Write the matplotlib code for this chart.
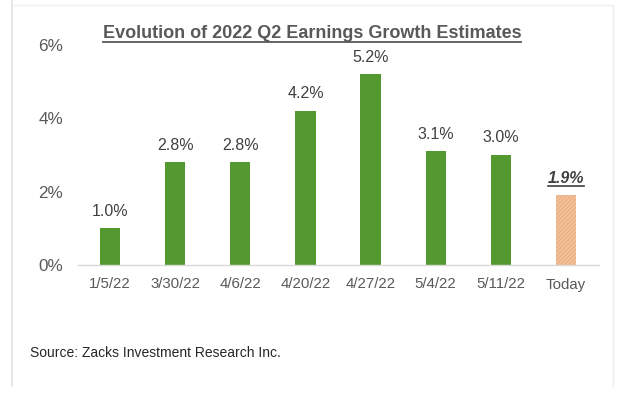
import matplotlib
matplotlib.use("Agg")
import matplotlib.pyplot as plt
from matplotlib.lines import Line2D

plt.rcParams['font.family'] = ['Liberation Sans', 'DejaVu Sans']
plt.rcParams['hatch.linewidth'] = 0.4

categories = ["1/5/22", "3/30/22", "4/6/22", "4/20/22", "4/27/22", "5/4/22", "5/11/22", "Today"]
values = [1.0, 2.8, 2.8, 4.2, 5.2, 3.1, 3.0, 1.9]
yticks = [0, 2, 4, 6]
title = "Evolution of 2022 Q2 Earnings Growth Estimates"
source = "Source: Zacks Investment Research Inc."

W, H = 620, 396
fig = plt.figure(figsize=(W / 100, H / 100), dpi=100)
fig.patch.set_facecolor('white')

def fx(px):
    return px / W

def fy(py):
    return 1 - py / H

ax = fig.add_axes([fx(77.5), fy(265), fx(598.5) - fx(77.5), fy(45) - fy(265)])
x = list(range(len(categories)))
green = '#53992f'
ax.bar(x[:-1], values[:-1], width=0.31, color=green, zorder=2)
ax.bar(x[-1], values[-1], width=0.31, facecolor='#f3bf98', edgecolor='#e3a070',
       hatch='////////', linewidth=0, zorder=2)

ax.set_xlim(-0.5, len(categories) - 0.5)
ax.set_ylim(0, 6)
ax.set_yticks(yticks)
ax.set_yticklabels([f"{t}%" for t in yticks])
ax.set_xticks(x)
ax.set_xticklabels(categories)
ax.tick_params(axis='both', length=0, colors='#595959')
ax.tick_params(axis='y', pad=10.5, labelsize=12.3)
ax.tick_params(axis='x', pad=9, labelsize=10.8)
for s in ['top', 'right', 'left']:
    ax.spines[s].set_visible(False)
ax.spines['bottom'].set_color('#d9d9d9')
ax.spines['bottom'].set_linewidth(1.0)

for i, v in enumerate(values[:-1]):
    ax.annotate(f"{v:.1f}%", (i, v), xytext=(0, 7), textcoords='offset points',
                ha='center', va='bottom', fontsize=11.5, color='#404040')

last = ax.annotate(f"{values[-1]:.1f}%", (x[-1], values[-1]), xytext=(0, 7),
                   textcoords='offset points', ha='center', va='bottom',
                   fontsize=11.5, color='#404040', fontweight='bold', fontstyle='italic')

t = fig.text(fx(312), fy(38), title, ha='center', va='baseline', fontsize=13,
             fontweight='bold', color='#595959')
fig.text(fx(30), fy(357), source, ha='left', va='baseline', fontsize=10, color='#262626')

# frame lines
fig.add_artist(Line2D([fx(12), fx(12)], [fy(0), fy(386)], color='#e3e3e3', lw=1.2))
fig.add_artist(Line2D([fx(613), fx(613)], [fy(5), fy(386)], color='#ececec', lw=1.0))
fig.add_artist(Line2D([fx(12), fx(613)], [fy(5), fy(5)], color='#f0f0f0', lw=1.0))

fig.canvas.draw()
renderer = fig.canvas.get_renderer()
for txt, col, lw in [(t, '#595959', 1.3), (last, '#404040', 1.2)]:
    bb = txt.get_window_extent(renderer)
    y0 = bb.y0
    fig.add_artist(Line2D([bb.x0 / W, bb.x1 / W], [y0 / H, y0 / H], color=col, lw=lw))

fig.savefig("out.png", dpi=100)
